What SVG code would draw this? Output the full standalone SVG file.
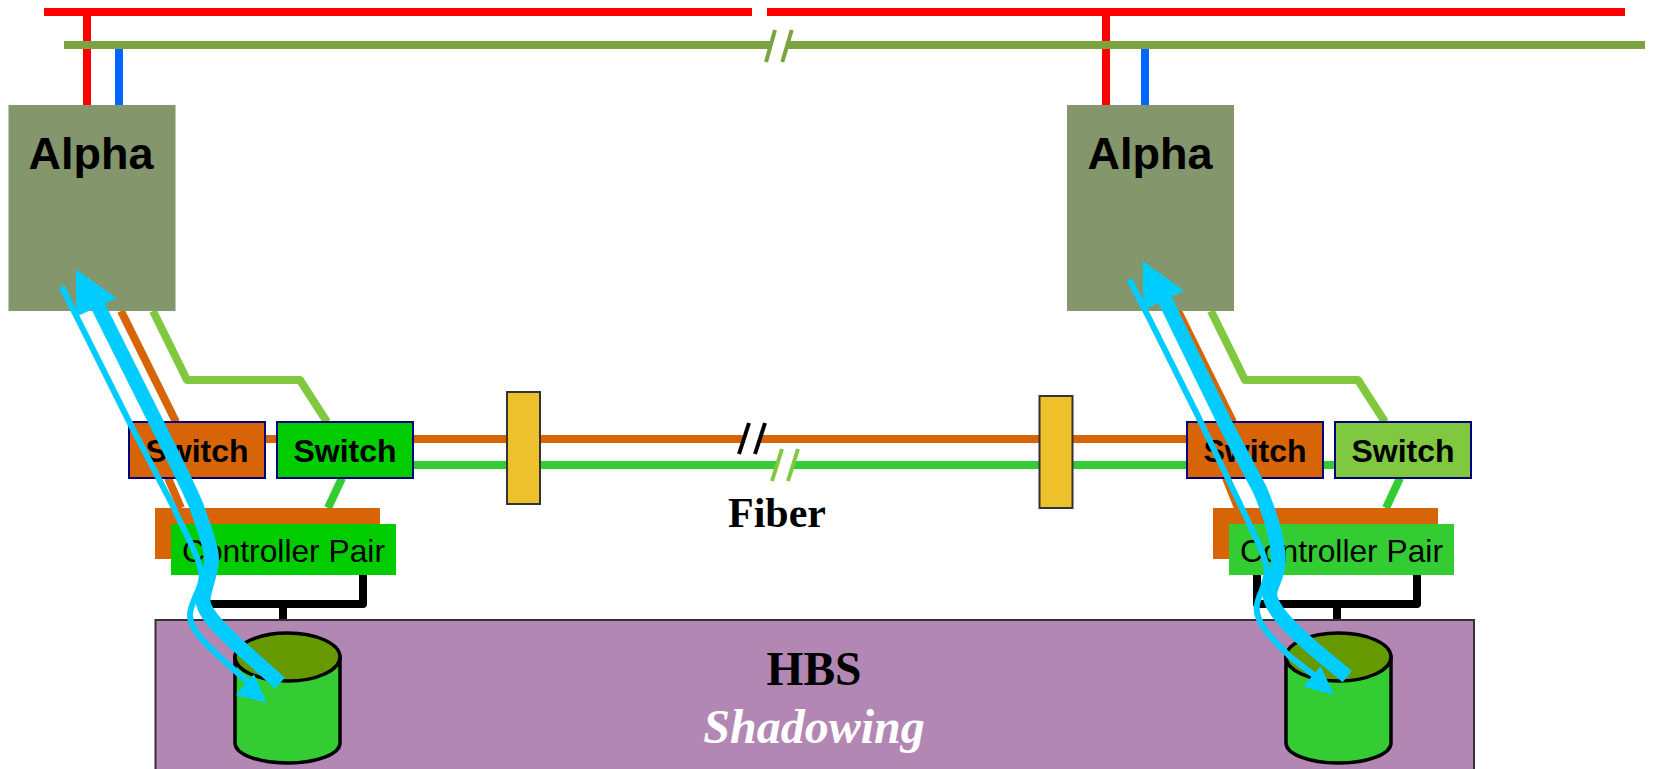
<svg xmlns="http://www.w3.org/2000/svg" width="1653" height="769" viewBox="0 0 1653 769">
<style>
.l{fill:none;stroke-width:8;stroke-linejoin:round}
.red{stroke:#f00}.blue{stroke:#06f}.olive{stroke:#7ba33f}.or{stroke:#d86408}.gl{stroke:#80c840}.g{stroke:#33cc33}
.blk{fill:none;stroke:#000;stroke-width:8;stroke-linejoin:round}
.sl{fill:none;stroke-width:4}
.alpha{fill:#84966b}
.sw{stroke:#000080;stroke-width:2}
.yl{fill:#ecc12b;stroke:#333;stroke-width:2}
.ab{font:bold 45px "Liberation Sans",Arial,sans-serif;text-anchor:middle;fill:#000}
.st{font:bold 32px "Liberation Sans",Arial,sans-serif;text-anchor:middle;fill:#000}
.ct{font:32px "Liberation Sans",Arial,sans-serif;fill:#000}
.ser{font-family:"Liberation Serif","Times New Roman",serif;font-weight:bold;text-anchor:middle}
.cy{stroke:#000;stroke-width:3.5}
.th{fill:none;stroke:#0cf;stroke-width:44;stroke-linejoin:round}
.tn{fill:none;stroke:#0cf;stroke-width:18;stroke-linejoin:round}
.hd{fill:#0cf}
</style>
<g id="connectors">
<path class="l red" d="M44,12H752M767,12H1625M87,12V105M1106,12V105"/>
<path class="l blue" d="M119,49V105M1145,49V105"/>
<path class="l olive" d="M64,45H770M787,45H1645"/>
<path class="sl olive" d="M775,30L766,62M791.700,30L782.300,62"/>
<path class="l or" d="M265,439H745M760,439H1187"/>
<path class="l g" d="M413,465H778M792,465H1335"/>
<path class="sl" stroke="#000" d="M749,423L739,454M765,423L755,454"/>
<path class="sl gl" d="M782,449L772,481M798,449L788,481"/>
<path class="l or" d="M121,311L176,422M168,478L181,508"/>
<path class="l gl" d="M153,311L187,380H300L327,422"/>
<path class="l g" d="M342,478L328,508"/>
<path class="l or" d="M1178,311L1233,422M1226,478L1238,508"/>
<path class="l gl" d="M1211,311L1245,380H1358L1385,422"/>
<path class="l g" d="M1400,478L1386,508"/>
<path class="blk" d="M363,575V604H203V575M283,604V620"/>
<path class="blk" d="M1417,575V604H1257V575M1337,604V620"/>
</g>
<g id="hbs">
<rect x="155.500" y="620" width="1318.500" height="160" fill="#b387b3" stroke="#333" stroke-width="2"/>
<text class="ser" x="814" y="685" font-size="47.500" fill="#000">HBS</text>
<text class="ser" x="814" y="743" font-size="48" font-style="italic" fill="#fff">Shadowing</text>
</g>
<g id="alpha-left"><rect class="alpha" x="8.500" y="105" width="167" height="206"/><text class="ab" x="91" y="169">Alpha</text></g>
<g id="alpha-right"><rect class="alpha" x="1067" y="105" width="167" height="206"/><text class="ab" x="1150" y="169">Alpha</text></g>
<g id="repeater-left"><rect class="yl" x="507" y="392" width="33" height="112"/></g>
<g id="repeater-right"><rect class="yl" x="1039.500" y="396" width="33" height="112"/></g>
<g id="switch-left-1"><rect class="sw" x="129" y="422" width="136" height="56" fill="#d86408"/><text class="st" x="197" y="462">Switch</text></g>
<g id="switch-left-2"><rect class="sw" x="277" y="422" width="136" height="56" fill="#00cc00"/><text class="st" x="345" y="462">Switch</text></g>
<g id="switch-right-1"><rect class="sw" x="1187" y="422" width="136" height="56" fill="#d86408"/><text class="st" x="1255" y="462">Switch</text></g>
<g id="switch-right-2"><rect class="sw" x="1335" y="422" width="136" height="56" fill="#80c840"/><text class="st" x="1403" y="462">Switch</text></g>
<g id="controller-left"><rect x="155" y="508" width="225" height="51" fill="#d86408"/><rect x="171" y="524" width="225" height="51" fill="#00cc00"/><text class="ct" x="182" y="562" textLength="203" lengthAdjust="spacingAndGlyphs">Controller Pair</text></g>
<g id="controller-right"><rect x="1213" y="508" width="225" height="51" fill="#d86408"/><rect x="1229" y="524" width="225" height="51" fill="#33cc33"/><text class="ct" x="1240" y="562" textLength="203" lengthAdjust="spacingAndGlyphs">Controller Pair</text></g>
<g id="disk-left"><path class="cy" fill="#33cc33" d="M235,657V743C235,754 258,763 287.500,763S340,754 340,743V657Z"/><ellipse class="cy" cx="287.500" cy="657" rx="52.500" ry="24" fill="#669900"/></g>
<g id="disk-right"><path class="cy" fill="#33cc33" d="M1286,657V743C1286,754 1309,763 1338.500,763S1391,754 1391,743V657Z"/><ellipse class="cy" cx="1338.500" cy="657" rx="52.500" ry="24" fill="#669900"/></g>
<text class="ser" x="777" y="527" font-size="42" fill="#000">Fiber</text>
<g id="flow-left" transform="translate(0,260) scale(0.3333)">
<path class="th" d="M840,1270L740,1180C700,1145 620,1075 610,1030C605,1000 630,960 635,900C635,860 610,800 590,740C570,690 520,590 480,510L285,120"/>
<polygon class="hd" points="228,28 350,115 228,170"/>
<path class="tn" d="M185,80L250,210L390,490L520,740C545,800 605,900 605,950C605,985 570,1030 570,1065C570,1110 620,1155 680,1210L770,1290"/>
<polygon class="hd" points="800,1328 708,1305 762,1243"/>
</g>
<g id="flow-right" transform="translate(1060,260) scale(0.3333)">
<path class="th" d="M862,1250L760,1165C715,1125 640,1060 630,1010C625,975 655,960 655,900C655,830 625,750 600,690L500,500L305,100"/>
<polygon class="hd" points="248,3 372,92 250,150"/>
<path class="tn" d="M208,58L270,180L410,460L520,690L600,860C610,885 622,910 620,940C615,985 590,1010 590,1045C590,1095 640,1140 690,1190L780,1260"/>
<polygon class="hd" points="822,1305 730,1280 782,1218"/>
</g>
</svg>
